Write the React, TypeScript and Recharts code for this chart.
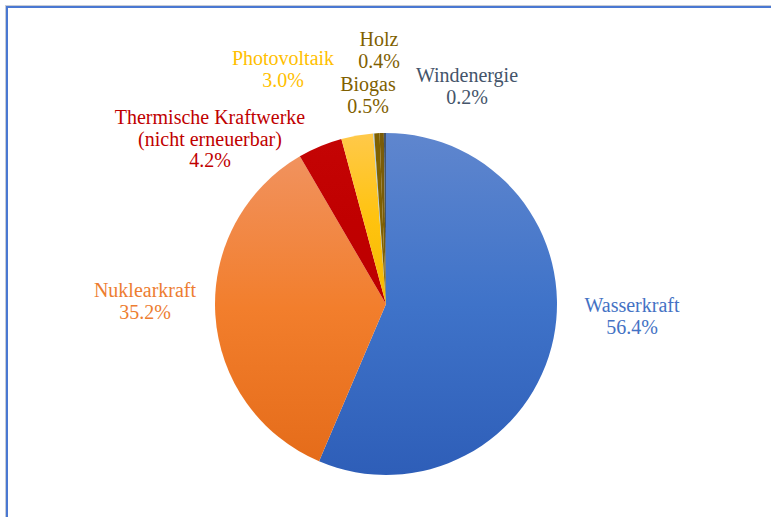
import React from "react";
import { PieChart, Pie, Cell } from "recharts";

const NAMES = [
  "Wasserkraft",
  "Nuklearkraft",
  "Thermische Kraftwerke (nicht erneuerbar)",
  "Photovoltaik",
  "Sonstige",
  "Biogas",
  "Holz",
  "Windenergie",
];
const VALUES = [56.4, 35.2, 4.2, 3.0, 0.1, 0.5, 0.4, 0.2];
const LABEL_LINES = [
  ["Wasserkraft"],
  ["Nuklearkraft"],
  ["Thermische Kraftwerke", "(nicht erneuerbar)"],
  ["Photovoltaik"],
  [],
  ["Biogas"],
  ["Holz"],
  ["Windenergie"],
];

const SLICE_TOP = ["#5F86CE", "#F1925E", "#C40404", "#FFC94A", "#A9C8E8", "#7F6000", "#7A5C08", "#44546A"];
const SLICE_MID = ["#3F73C9", "#F27E2C", "#C00000", "#FFC30F", "#9DC3E6", "#7F6000", "#7A5C08", "#44546A"];
const SLICE_BOTTOM = ["#2E5EB8", "#E56C1A", "#BC0000", "#F5BA00", "#9DC3E6", "#7F6000", "#7A5C08", "#44546A"];
const TEXT_COLORS = ["#4472C4", "#ED7D31", "#C00000", "#FFC000", "#9DC3E6", "#7F6000", "#7F6000", "#44546A"];

const CX = 386;
const CY = 304;
const RADIUS = 171;

// label layout (offsets from pie centre: block centre x, first baseline y)
const LABEL_LAYOUT = [
  { dx: 246, dy: 8 },
  { dx: -241, dy: -7 },
  { dx: -176, dy: -180 },
  { dx: -103, dy: -239 },
  null,
  { dx: -18, dy: -213 },
  { dx: -7, dy: -258 },
  { dx: 81, dy: -222 },
];

const data = NAMES.map((name, i) => ({ name, value: VALUES[i] }));

const LINE_H = 21.5;
const SERIF = "Liberation Serif";

function Labels() {
  return (
    <svg width={771} height={517} style={{ position: "absolute", left: 0, top: 0, pointerEvents: "none" }}>
      {LABEL_LAYOUT.map((L, index) => {
        if (!L) return null;
        const lines = [...LABEL_LINES[index], VALUES[index].toFixed(1) + "%"];
        const x = CX + L.dx;
        const y0 = CY + L.dy;
        return (
          <text key={index} textAnchor="middle" fill={TEXT_COLORS[index]} fontFamily={SERIF} fontSize={20}>
            {lines.map((t, j) => (
              <tspan key={j} x={x} y={y0 + j * LINE_H}>
                {t}
              </tspan>
            ))}
          </text>
        );
      })}
    </svg>
  );
}

export default function App() {
  return (
    <div
      style={{
        position: "absolute",
        left: 0,
        top: 0,
        width: 771,
        height: 517,
        overflow: "hidden",
        background: "#ffffff",
      }}
    >
      <div
        style={{
          position: "absolute",
          left: 6,
          top: 6,
          width: 900,
          height: 700,
          borderLeft: "2px solid #4A78D2",
          borderTop: "2px solid #4A78D2",
          boxShadow: "-1px -1px 0 #C8CCD4",
        }}
      />
      <div style={{ position: "absolute", left: 0, top: 0 }}>
        <PieChart width={771} height={517} margin={{ top: 0, right: 0, bottom: 0, left: 0 }}>
          <defs>
            {SLICE_TOP.map((c, i) => (
              <linearGradient key={i} id={"grad" + i} x1="0" y1="0" x2="0" y2="1">
                <stop offset="0%" stopColor={c} />
                <stop offset="50%" stopColor={SLICE_MID[i]} />
                <stop offset="100%" stopColor={SLICE_BOTTOM[i]} />
              </linearGradient>
            ))}
          </defs>
          <Pie
            data={data}
            dataKey="value"
            nameKey="name"
            cx={CX}
            cy={CY}
            outerRadius={RADIUS}
            startAngle={90}
            endAngle={-270}
            stroke="none"
            labelLine={false}
            label={false}
            isAnimationActive={false}
          >
            {data.map((d, i) => (
              <Cell key={d.name} fill={`url(#grad${i})`} />
            ))}
          </Pie>
        </PieChart>
      </div>
      <Labels />
    </div>
  );
}
